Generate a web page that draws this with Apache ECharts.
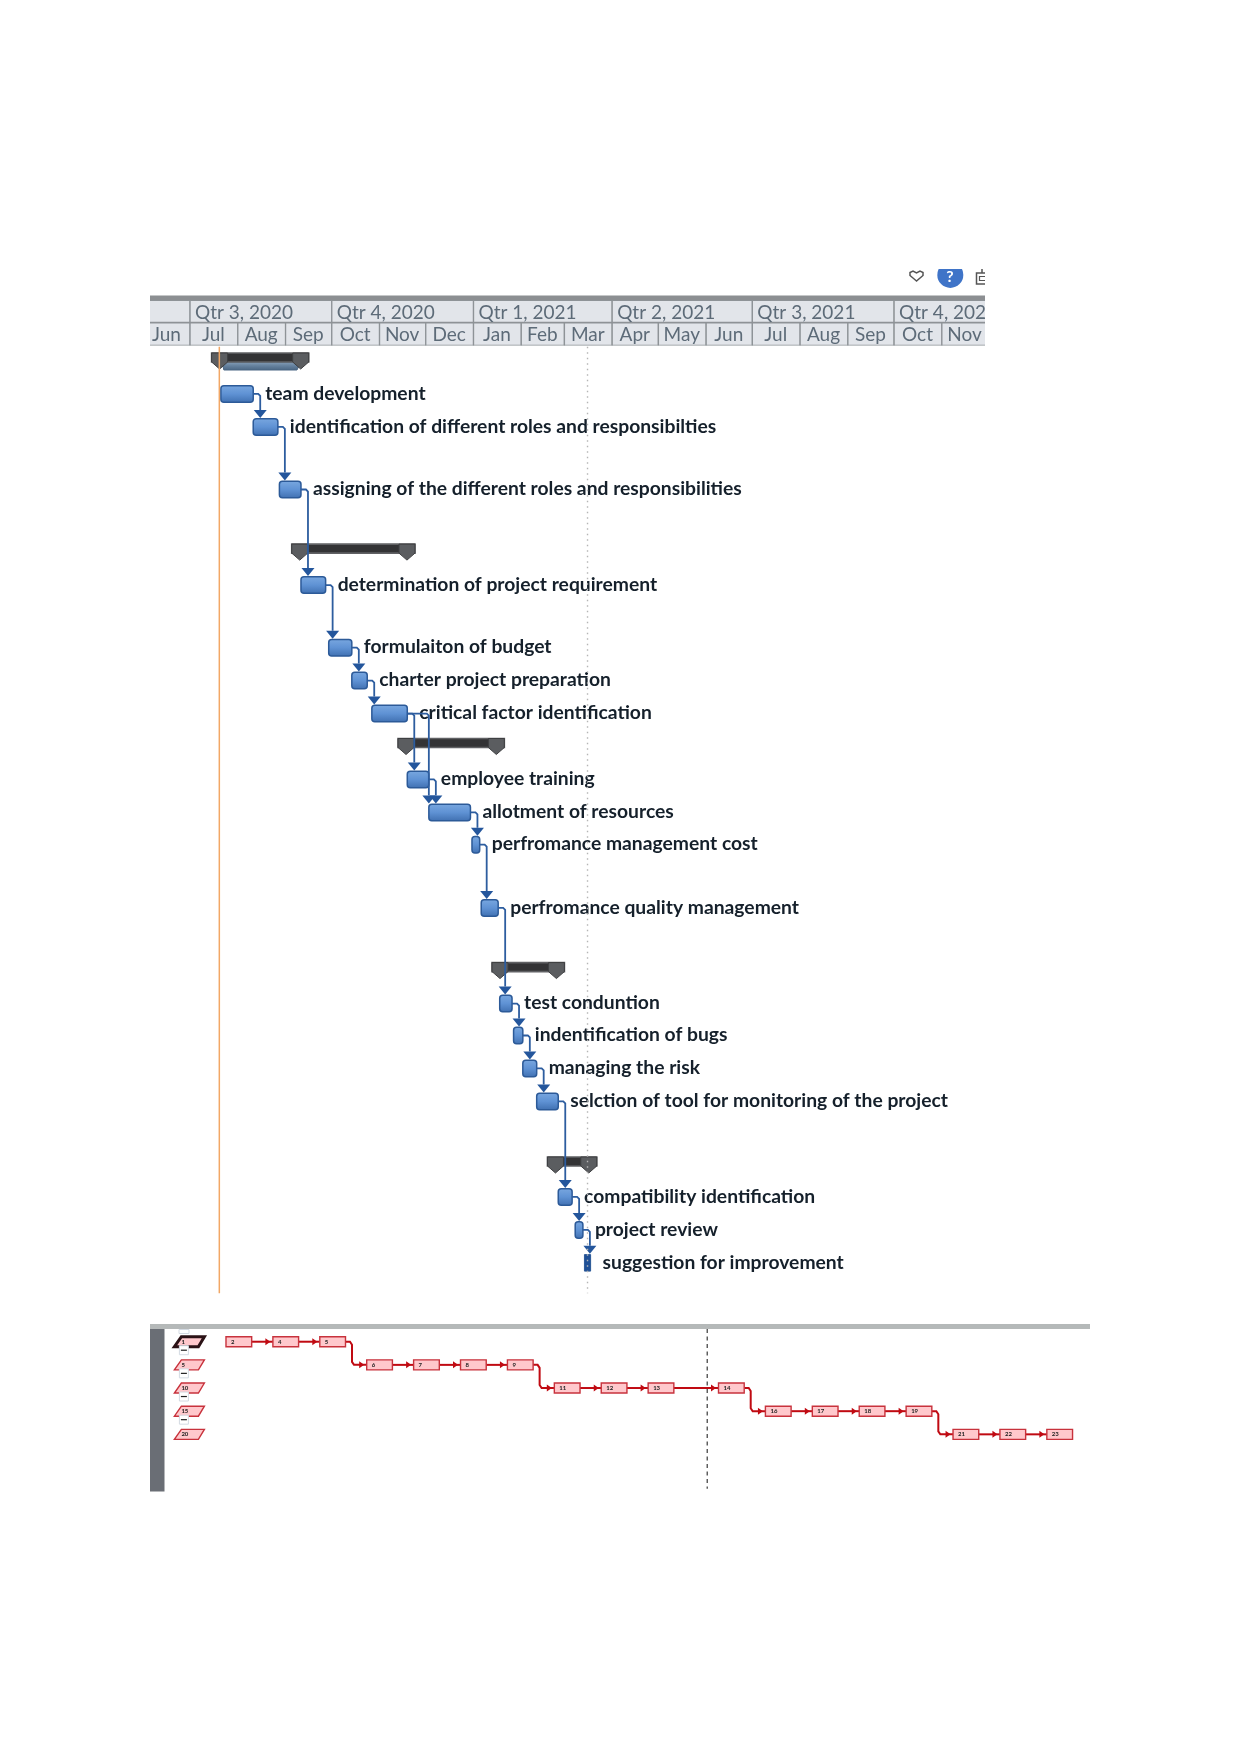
<!DOCTYPE html>
<html><head><meta charset="utf-8">
<style>html,body{margin:0;padding:0;background:#fff}#c{width:1241px;height:1754px;filter:blur(0.45px)}</style>
<script src="https://cdn.jsdelivr.net/npm/echarts@6/dist/echarts.min.js"></script>
</head><body><div id="c"></div>
<script>
// ---------- data ----------
const quarters = [['','2020-04-01','2020-07-01'],['Qtr 3, 2020','2020-07-01','2020-10-01'],['Qtr 4, 2020','2020-10-01','2021-01-01'],['Qtr 1, 2021','2021-01-01','2021-04-01'],['Qtr 2, 2021','2021-04-01','2021-07-01'],['Qtr 3, 2021','2021-07-01','2021-10-01'],['Qtr 4, 2021','2021-10-01','2022-01-01']];
const months = [['Jun','2020-06-01','2020-07-01'],['Jul','2020-07-01','2020-08-01'],['Aug','2020-08-01','2020-09-01'],['Sep','2020-09-01','2020-10-01'],['Oct','2020-10-01','2020-11-01'],['Nov','2020-11-01','2020-12-01'],['Dec','2020-12-01','2021-01-01'],['Jan','2021-01-01','2021-02-01'],['Feb','2021-02-01','2021-03-01'],['Mar','2021-03-01','2021-04-01'],['Apr','2021-04-01','2021-05-01'],['May','2021-05-01','2021-06-01'],['Jun','2021-06-01','2021-07-01'],['Jul','2021-07-01','2021-08-01'],['Aug','2021-08-01','2021-09-01'],['Sep','2021-09-01','2021-10-01'],['Oct','2021-10-01','2021-11-01'],['Nov','2021-11-01','2021-12-01']];
const statusDate = '2020-07-20';
const currentDate = '2021-03-16';
// name, start, finish, row
const tasks = [
 ['team development','2020-07-21','2020-08-11',1],
 ['identification of different roles and responsibilties','2020-08-11','2020-08-27',2],
 ['assigning of the different roles and responsibilities','2020-08-28','2020-09-11',3.9],
 ['determination of project requirement','2020-09-11','2020-09-27',6.8],
 ['formulaiton of budget','2020-09-29','2020-10-14',8.7],
 ['charter project preparation','2020-10-14','2020-10-24',9.7],
 ['critical factor identification','2020-10-27','2020-11-19',10.7],
 ['employee training','2020-11-19','2020-12-03',12.7],
 ['allotment of resources','2020-12-03','2020-12-30',13.7],
 ['perfromance management cost','2020-12-31','2021-01-05',14.68],
 ['perfromance quality management','2021-01-06','2021-01-17',16.6],
 ['test conduntion','2021-01-18','2021-01-26',19.5],
 ['indentification of bugs','2021-01-27','2021-02-02',20.47],
 ['managing the risk','2021-02-02','2021-02-11',21.47],
 ['selction of tool for monitoring of the project','2021-02-11','2021-02-25',22.47],
 ['compatibility identification','2021-02-25','2021-03-06',25.37],
 ['project review','2021-03-08','2021-03-13',26.37],
 ['suggestion for improvement','2021-03-14','2021-03-18',27.37]
];
const summaries = [
 ['2020-07-15','2020-09-16',0],
 ['2020-09-05','2020-11-24',5.8],
 ['2020-11-13','2021-01-21',11.7],
 ['2021-01-13','2021-03-01',18.5],
 ['2021-02-18','2021-03-22',24.4]
];
const rollups = [['2020-07-21','2020-09-11',0]];
const links = [[0,1],[1,2],[2,3],[3,4],[4,5],[5,6],[6,7],[6,8],[7,8],[8,9],[9,10],[10,11],[11,12],[12,13],[13,14],[14,15],[15,16],[16,17]];
// network diagram: id, column, row
const netSummaries = [['1',0],['5',1],['10',2],['15',3],['20',4]];
const netBoxes = [['2',0,0],['4',1,0],['5',2,0],['6',3,1],['7',4,1],['8',5,1],['9',6,1],['11',7,2],['12',8,2],['13',9,2],['14',10.5,2],['16',11.5,3],['17',12.5,3],['18',13.5,3],['19',14.5,3],['21',15.5,4],['22',16.5,4],['23',17.5,4]];
const netCurrentColumn = 10.26;

// ---------- drawing ----------
const t = d => new Date(d + 'T00:00:00Z').getTime();
const FONT = 'Lato, "Open Sans", sans-serif';
const chart = echarts.init(document.getElementById('c'), null, {renderer:'canvas'});
const rowPx = 32.95;
const grad = (c1,c2,c3)=>new echarts.graphic.LinearGradient(0,0,0,1,[{offset:0,color:c1},{offset:.5,color:c2},{offset:1,color:c3}]);

function headerItem(rowIdx, h){
  return function(params, api){
    const x0 = api.coord([api.value(1), rowIdx+0.5])[0], x1 = api.coord([api.value(2), rowIdx+0.5])[0];
    const yc = api.coord([api.value(1), rowIdx+0.5])[1];
    const name = rowIdx === 0 ? quarters[params.dataIndex][0] : months[params.dataIndex][0];
    const isQ = rowIdx === 0;
    return {type:'group',children:[
      {type:'rect',shape:{x:x0,y:yc-h/2,width:x1-x0,height:h},style:{fill:'#e2e5ea',stroke:'#8e9397',lineWidth:1.3}},
      {type:'text',style:{text:name,x:isQ?x0+5:(x0+x1)/2-0.5,y:yc+1,align:isQ?'left':'center',verticalAlign:'middle',fill:'#5d6b78',font:'19px '+FONT}}
    ]};
  };
}

function taskItem(params, api){
  const i = params.dataIndex;
  const s = api.coord([api.value(0), api.value(2)]), e = api.coord([api.value(1), api.value(2)]);
  const h = 16.5, w = e[0]-s[0], thin = w < 7;
  return {type:'group',children:[
    {type:'rect',shape:{x:s[0],y:s[1]-h/2,width:w,height:h,r:thin?0:3},
     style:{fill:thin?'#1f4f95':grad('#7aa8e0','#5f92d4','#3f6fb0'),stroke:'#2c5a98',lineWidth:thin?1:1.5}},
    {type:'text',z2:5,style:{text:tasks[i][0],x:e[0]+12,y:s[1]-0.5,align:'left',verticalAlign:'middle',fill:'#15202b',font:'bold 19.3px '+FONT}}
  ]};
}

function summaryItem(params, api){
  const s = api.coord([api.value(0), api.value(2)]), e = api.coord([api.value(1), api.value(2)]);
  const top = s[1]-8, capW=16, capH=9, tip=16;
  const cap = (x0)=>({type:'polygon',shape:{points:[[x0,top],[x0+capW,top],[x0+capW,top+capH],[x0+capW/2,top+tip],[x0,top+capH]]},style:{fill:'#5b5d60',stroke:'#3e3f41',lineWidth:1}});
  return {type:'group',children:[
    {type:'rect',shape:{x:s[0],y:top,width:e[0]-s[0],height:9},style:{fill:'#333335',stroke:'#606164',lineWidth:1.6}},
    cap(s[0]),cap(e[0]-capW)
  ]};
}

function rollupItem(params, api){
  const s = api.coord([api.value(0), api.value(2)]), e = api.coord([api.value(1), api.value(2)]);
  const y0=s[1]+1, y1=s[1]+9;
  return {type:'polygon',shape:{points:[[s[0]+1,y0],[e[0],y0],[e[0]-4,y1],[s[0]+3,y1]]},style:{fill:grad('#8aa2bb','#64809d','#4a6683'),stroke:'#4a6683',lineWidth:1}};
}

function linkItem(params, api){
  const p = api.value(0), q = api.value(1);
  const from = tasks[p], to = tasks[q];
  const a = api.coord([t(from[2]), from[3]]), b = api.coord([t(to[1]), to[3]]);
  const x = Math.max(a[0]+7, b[0]);
  const yBase = b[1]-17;
  const children = [
    {type:'polyline',shape:{points:[[a[0],a[1]],[x-2,a[1]],[x,a[1]+2],[x,yBase]]},style:{stroke:'#2d5d9f',fill:null,lineWidth:1.8}},
    {type:'polygon',shape:{points:[[x-6.5,yBase],[x+6.5,yBase],[x,yBase+8]]},style:{fill:'#24569c'}}
  ];
  return {type:'group',children};
}

function vline(stroke, lw, dash){
  return function(params, api){
    const a = api.coord([api.value(0), -0.43]), b = api.coord([api.value(0), 28.29]);
    return {type:'line',z2:20,shape:{x1:a[0],y1:a[1],x2:b[0],y2:b[1]},style:{stroke,lineWidth:lw,lineDash:dash||undefined}};
  };
}

function netSummaryItem(params, api){
  const c = api.coord([-1.1, api.value(1)]);
  const i = params.dataIndex, y=c[1];
  const els=[{type:'polygon',shape:{points:[[c[0]+7,y-5],[c[0]+30,y-5],[c[0]+24,y+5],[c[0],y+5]]},
      style:{fill:'#ffc8cc',stroke:i===0?'#2b1216':'#c8323c',lineWidth:i===0?3:1.4}},
    {type:'text',style:{text:netSummaries[i][0],x:c[0]+7,y:y,align:'left',verticalAlign:'middle',fill:'#222',font:'bold 6px '+FONT}}];
  if(i<4){
    els.push({type:'rect',shape:{x:c[0]+5,y:y+4,width:9,height:9},style:{fill:'#fff',stroke:'#d3dae2',lineWidth:1}});
    els.push({type:'line',shape:{x1:c[0]+6.5,y1:y+8.5,x2:c[0]+12.5,y2:y+8.5},style:{stroke:'#222',lineWidth:1.2}});
  }
  return {type:'group',children:els};
}

function netBoxItem(params, api){
  const c = api.coord([api.value(1), api.value(2)]);
  const i = params.dataIndex;
  return {type:'group',children:[
    {type:'rect',shape:{x:c[0],y:c[1]-5,width:25.7,height:10},style:{fill:'#ffc8cc',stroke:'#c8323c',lineWidth:1.4}},
    {type:'text',style:{text:netBoxes[i][0],x:c[0]+5,y:c[1],align:'left',verticalAlign:'middle',fill:'#222',font:'bold 6px '+FONT}}
  ]};
}

function netLinkItem(params, api){
  const i = params.dataIndex;
  if(i===netBoxes.length-1) return null;
  const a = netBoxes[i], b = netBoxes[i+1];
  const pa = api.coord([a[1],a[2]]), pb = api.coord([b[1],b[2]]);
  const xs = pa[0]+25.7, xe = pb[0];
  const ch=[];
  if(pa[1]===pb[1]){
    ch.push({type:'line',shape:{x1:xs,y1:pa[1],x2:xe,y2:pb[1]},style:{stroke:'#c00a12',lineWidth:2}});
  } else {
    const xm = xs+6.5;
    ch.push({type:'polyline',shape:{points:[[xs,pa[1]],[xm-2,pa[1]],[xm,pa[1]+3],[xm,pb[1]-3],[xm+2,pb[1]],[xe,pb[1]]]},style:{stroke:'#c00a12',lineWidth:2,fill:null}});
  }
  ch.push({type:'polygon',shape:{points:[[xe-7.5,pb[1]-3.5],[xe-2.5,pb[1]],[xe-7.5,pb[1]+3.5]]},style:{fill:'#c00a12'}});
  return {type:'group',children:ch};
}

const xTime = {type:'time',min:t('2020-06-05'),max:t('2021-11-29'),show:false};
const option = {
  animation:false,
  textStyle:{fontFamily:FONT},
  grid:[
    {left:150,width:835,top:300,height:45.5},
    {left:150,width:835,top:345,height:950},
    {left:150,width:940,top:1324,height:168}
  ],
  xAxis:[
    {...xTime,gridIndex:0},
    {...xTime,gridIndex:1},
    {type:'value',gridIndex:2,min:-1.62,max:18.42,show:false}
  ],
  yAxis:[
    {type:'value',gridIndex:0,min:0,max:2,inverse:true,show:false},
    {type:'value',gridIndex:1,min:-16/rowPx,max:934/rowPx,inverse:true,show:false},
    {type:'value',gridIndex:2,min:-0.765,max:6.49,inverse:true,show:false}
  ],
  graphic:[
    {type:'rect',shape:{x:150,y:295.5,width:835,height:4.5},style:{fill:'#8c8f92'}},
    {type:'rect',shape:{x:150,y:1324,width:940,height:5},style:{fill:'#b5b9b9'}},
    {type:'rect',shape:{x:150,y:1329,width:14.5,height:162.5},style:{fill:'#6a6e75'}},
    {type:'rect',shape:{x:179,y:1329.5,width:10,height:4},style:{fill:'#fff',stroke:'#d3dae2'}},
    // toolbar icons
    {type:'polygon',shape:{points:[[916.5,281],[910,275.5],[910,272.5],[913,271],[916.5,273],[920,271],[923,272.5],[923,275.5]]},style:{fill:'#fff',stroke:'#555',lineWidth:1.5}},
    {type:'circle',shape:{cx:950.3,cy:274.9,r:13},style:{fill:'#3f74c8'}},
    {type:'rect',shape:{x:935,y:258,width:30,height:11},style:{fill:'#fff'}},
    {type:'text',style:{text:'?',x:950,y:277,align:'center',verticalAlign:'middle',fill:'#fff',font:'bold 16px '+FONT}},
    {type:'polyline',shape:{points:[[985,273],[976.5,273],[976.5,284],[985,284]]},style:{fill:null,stroke:'#555',lineWidth:1.5}},
    {type:'polyline',shape:{points:[[985,276.5],[979.5,276.5],[979.5,280.5],[985,280.5]]},style:{fill:null,stroke:'#555',lineWidth:1.2}},
    {type:'line',shape:{x1:982,y1:269,x2:982,y2:273},style:{stroke:'#555',lineWidth:1.5}}
  ],
  series:[
    {type:'custom',xAxisIndex:0,yAxisIndex:0,clip:true,silent:true,renderItem:headerItem(0,22),encode:{x:[1,2]},data:quarters.map(q=>[0,t(q[1]),t(q[2])])},
    {type:'custom',xAxisIndex:0,yAxisIndex:0,clip:true,silent:true,renderItem:headerItem(1,22.5),encode:{x:[1,2]},data:months.map(q=>[0,t(q[1]),t(q[2])])},
    {type:'custom',xAxisIndex:1,yAxisIndex:1,clip:false,silent:true,renderItem:vline('#b5b5b5',1.4,[1.5,4]),encode:{x:0},data:[[t(currentDate)]],z:7},
    {type:'custom',xAxisIndex:1,yAxisIndex:1,clip:false,silent:true,renderItem:rollupItem,encode:{x:[0,1],y:2},data:rollups.map(r=>[t(r[0]),t(r[1]),r[2]]),z:2},
    {type:'custom',xAxisIndex:1,yAxisIndex:1,clip:false,silent:true,renderItem:summaryItem,encode:{x:[0,1],y:2},data:summaries.map(r=>[t(r[0]),t(r[1]),r[2]]),z:3},
    {type:'custom',xAxisIndex:1,yAxisIndex:1,clip:false,silent:true,renderItem:taskItem,encode:{x:[0,1],y:2},data:tasks.map(r=>[t(r[1]),t(r[2]),r[3]]),z:4},
    {type:'custom',xAxisIndex:1,yAxisIndex:1,clip:false,silent:true,renderItem:linkItem,data:links,z:5},
    {type:'custom',xAxisIndex:1,yAxisIndex:1,clip:false,silent:true,renderItem:vline('#f2a765',1.5,null),encode:{x:0},data:[[t(statusDate)]],z:6},
    {type:'custom',xAxisIndex:2,yAxisIndex:2,clip:false,silent:true,renderItem:netLinkItem,data:netBoxes.map(b=>[b[1],b[2]]),z:2},
    {type:'custom',xAxisIndex:2,yAxisIndex:2,clip:false,silent:true,renderItem:(p,api)=>{
       const c=api.coord([netCurrentColumn,-0.55]), d=api.coord([netCurrentColumn,6.35]);
       return {type:'line',shape:{x1:c[0],y1:c[1],x2:d[0],y2:d[1]},style:{stroke:'#555',lineWidth:1.4,lineDash:[4,3.5]}};
    },data:[[netCurrentColumn]],z:3},
    {type:'custom',xAxisIndex:2,yAxisIndex:2,clip:false,silent:true,renderItem:netSummaryItem,data:netSummaries.map(s=>[0,s[1]]),z:4},
    {type:'custom',xAxisIndex:2,yAxisIndex:2,clip:false,silent:true,renderItem:netBoxItem,data:netBoxes.map(b=>[0,b[1],b[2]]),z:4}
  ]
};
chart.setOption(option);
</script></body></html>
